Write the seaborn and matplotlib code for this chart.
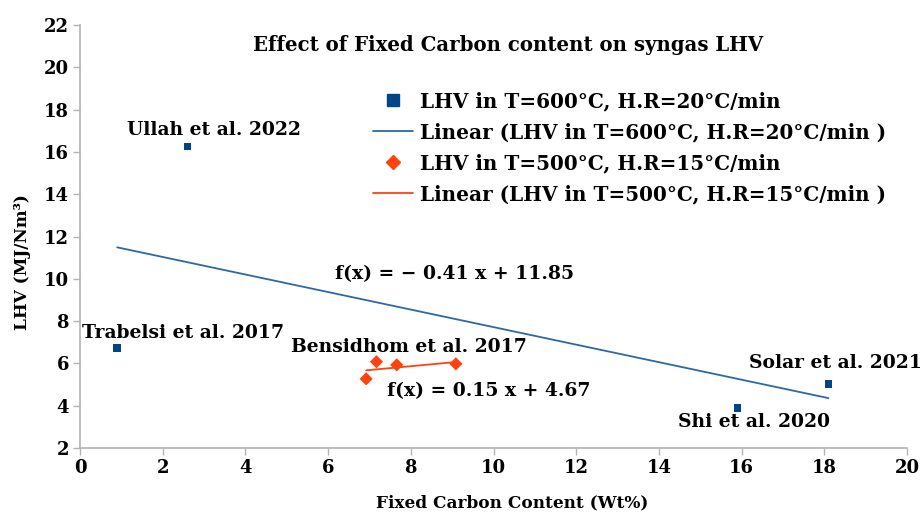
import matplotlib
matplotlib.use("Agg")
import matplotlib.pyplot as plt
import seaborn as sns
import numpy as np
import pandas as pd
from matplotlib.lines import Line2D

# Data
fc_600 = [0.9, 2.6, 15.9, 18.1]
lhv_600 = [6.73, 16.26, 3.88, 5.03]
labels_600 = ["Trabelsi et al. 2017", "Ullah et al. 2022", "Shi et al. 2020", "Solar et al. 2021"]
fc_500 = [6.92, 7.17, 7.66, 9.09]
lhv_500 = [5.27, 6.08, 5.93, 5.98]
x_ticks = list(range(0, 21, 2))
y_ticks = list(range(2, 23, 2))

name1 = "LHV in T=600°C, H.R=20°C/min"
name2 = "LHV in T=500°C, H.R=15°C/min"
df1 = pd.DataFrame({"fc": fc_600, "lhv": lhv_600})
df2 = pd.DataFrame({"fc": fc_500, "lhv": lhv_500})

sns.set_style("white")
plt.rcParams['font.family'] = ['DejaVu Serif']
plt.rcParams['font.weight'] = 'bold'
plt.rcParams['text.color'] = 'black'
plt.rcParams['axes.labelcolor'] = 'black'
plt.rcParams['xtick.color'] = 'black'
plt.rcParams['ytick.color'] = 'black'

blue_m = "#004586"
blue_l = "#2c69a5"
orange = "#ff420e"
gray = "#b3b3b3"

fig = plt.figure(figsize=(9.24, 5.14), dpi=100)
ax = fig.add_axes([80/924, 1-448/514, 827/924, 423/514])

sns.regplot(data=df1, x="fc", y="lhv", ax=ax, scatter=False, ci=None, truncate=True,
            line_kws=dict(color=blue_l, lw=1.3))
sns.regplot(data=df2, x="fc", y="lhv", ax=ax, scatter=False, ci=None, truncate=True,
            line_kws=dict(color=orange, lw=1.3))
sns.scatterplot(data=df1, x="fc", y="lhv", ax=ax, marker="s", s=30, color=blue_m,
                edgecolor="none", legend=False, zorder=3)
sns.scatterplot(data=df2, x="fc", y="lhv", ax=ax, marker="D", s=45, color=orange,
                edgecolor="none", legend=False, zorder=3)

ax.set_xlim(0, 20)
ax.set_ylim(2, 22)
ax.set_xticks(x_ticks)
ax.set_yticks(y_ticks)
ax.tick_params(axis="both", direction="out", length=5, width=1, color=gray,
               labelcolor="black", labelsize=13, pad=3, bottom=True, left=True)
for s in ["top", "right"]:
    ax.spines[s].set_visible(False)
for s in ["left", "bottom"]:
    ax.spines[s].set_color(gray)
    ax.spines[s].set_linewidth(1.2)

ax.set_xlabel("Fixed Carbon Content (Wt%)", fontsize=12.2, fontweight="bold", color="black")
ax.set_ylabel("LHV (MJ/Nm³)", fontsize=12.2, fontweight="bold", color="black")
ax.xaxis.set_label_coords((512 - 80) / 827, -(494 - 448) / 423)
ax.yaxis.set_label_coords(-(80 - 31) / 827, (448 - 262) / 423)

ax.text(0.518, 0.953, "Effect of Fixed Carbon content on syngas LHV", transform=ax.transAxes,
        ha="center", va="center", fontsize=14.2, fontweight="bold", color="black")

# point labels
fs = 13.5
kw = dict(fontsize=fs, fontweight="bold", color="black")
ax.text(3.24, 17.05, labels_600[1], ha="center", va="center", **kw)
ax.text(0.05, 7.44, labels_600[0], ha="left", va="center", **kw)
ax.text(16.3, 3.23, labels_600[2], ha="center", va="center", **kw)
ax.text(18.26, 6.02, labels_600[3], ha="center", va="center", **kw)
ax.text(7.96, 6.78, "Bensidhom et al. 2017", ha="center", va="center", **kw)
ax.text(6.17, 10.2, "f(x) = − 0.41 x + 11.85", ha="left", va="center", **kw)
ax.text(7.42, 4.7, "f(x) = 0.15 x + 4.67", ha="left", va="center", **kw)

handles = [
    Line2D([], [], ls="none", marker="s", color=blue_m, markersize=8),
    Line2D([], [], color=blue_l, lw=1.3),
    Line2D([], [], ls="none", marker="D", color=orange, markersize=7),
    Line2D([], [], color=orange, lw=1.3),
]
leg_labels = [name1, "Linear (" + name1 + " )", name2, "Linear (" + name2 + " )"]
leg = ax.legend(handles, leg_labels, loc="upper left", bbox_to_anchor=(0.345, 0.862),
                frameon=False, fontsize=14.4, handlelength=2.0, handletextpad=0.35,
                labelspacing=0.55, borderaxespad=0)
for t in leg.get_texts():
    t.set_color("black")

fig.savefig("out.png", dpi=100)
